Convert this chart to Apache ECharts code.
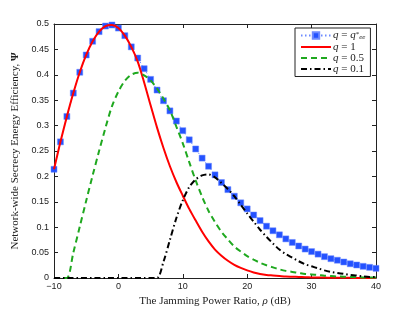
<!DOCTYPE html>
<html>
<head>
<meta charset="utf-8">
<script src="https://cdn.jsdelivr.net/npm/echarts@6/dist/echarts.min.js"></script>
<style>html,body{margin:0;padding:0;background:#fff}#c{width:415px;height:313px}</style>
</head>
<body>
<div id="c"></div>
<script>
// Jamming power ratio rho (dB)
var rho = [-10,-9,-8,-7,-6,-5,-4,-3,-2,-1,0,1,2,3,4,5,6,7,8,9,10,11,12,13,14,15,16,17,18,19,20,21,22,23,24,25,26,27,28,29,30,31,32,33,34,35,36,37,38,39,40];
// q = q*_ee
var psiOpt = [0.214,0.268,0.318,0.364,0.405,0.439,0.466,0.485,0.496,0.498,0.492,0.477,0.455,0.433,0.412,0.391,0.370,0.349,0.329,0.309,0.290,0.272,0.254,0.236,0.220,0.203,0.188,0.174,0.161,0.148,0.136,0.124,0.113,0.102,0.093,0.085,0.077,0.070,0.063,0.057,0.052,0.047,0.042,0.038,0.035,0.0315,0.028,0.0256,0.023,0.021,0.019];
// q = 1
var psi1 = [0.214,0.268,0.318,0.364,0.405,0.439,0.466,0.485,0.496,0.498,0.492,0.477,0.455,0.426,0.385,0.340,0.296,0.256,0.220,0.189,0.162,0.136,0.113,0.091,0.072,0.056,0.044,0.034,0.026,0.020,0.015,0.011,0.008,0.006,0.005,0.004,0.003,0.0025,0.002,0.0016,0.0012,0.001,0.0008,0.0006,0.0005,0.0004,0.0003,0.0002,0.0002,0.0001,0.0001];
// q = 0.5
var psi05 = [0,0,0,0.050,0.101,0.152,0.202,0.250,0.296,0.338,0.367,0.388,0.400,0.404,0.399,0.389,0.373,0.353,0.330,0.298,0.265,0.228,0.192,0.160,0.132,0.110,0.091,0.076,0.062,0.052,0.043,0.036,0.030,0.025,0.021,0.017,0.014,0.012,0.010,0.008,0.007,0.006,0.0045,0.0037,0.003,0.0025,0.002,0.0016,0.0012,0.001,0.0008];
// q = 0.1
var psi01 = [0,0,0,0,0,0,0,0,0,0,0,0,0,0,0,0,0,0.032,0.075,0.118,0.153,0.179,0.194,0.202,0.204,0.198,0.187,0.175,0.161,0.144,0.127,0.111,0.095,0.081,0.068,0.056,0.047,0.040,0.033,0.027,0.023,0.019,0.015,0.012,0.010,0.008,0.006,0.005,0.003,0.002,0.002];
var xTicks = {min:-10, max:40, interval:10};
var yTicks = {min:0, max:0.5, interval:0.05};

function pairs(ys){ return rho.map(function(x,i){ return [x, ys[i]]; }); }
var serif = '"Liberation Serif","DejaVu Serif",serif';
var sans = '"Liberation Sans",Arial,sans-serif';
var axisLineStyle = {color:'#222', width:1};

var chart = echarts.init(document.getElementById('c'), null, {renderer:'canvas'});
chart.setOption({
  animation:false,
  backgroundColor:'#fff',
  grid:{left:54, right:39, top:24, bottom:35, containLabel:false},
  legend:{
    orient:'vertical', left:295, top:28,
    backgroundColor:'#fff', borderColor:'#222', borderWidth:1, borderRadius:0,
    padding:[2,5,2,5], itemGap:0, itemWidth:30, itemHeight:8,
    textStyle:{fontFamily:serif, fontSize:11, lineHeight:10, color:'#222', padding:[0,0,0,-3],
      rich:{
        i:{fontFamily:serif, fontStyle:'italic', fontSize:11, lineHeight:10},
        n:{fontFamily:serif, fontSize:11, lineHeight:10},
        sup:{fontFamily:serif, fontSize:7, lineHeight:10, verticalAlign:'top', padding:[0,0,4,0]},
        sub:{fontFamily:serif, fontStyle:'italic', fontSize:7, lineHeight:10, padding:[4,0,0,0]}
      }},
    formatter:function(name){
      if(name==='opt') return '{i|q} {n|=} {i|q}{sup|*}{sub|ee}';
      if(name==='q1') return '{i|q} {n|= 1}';
      if(name==='q05') return '{i|q} {n|= 0.5}';
      return '{i|q} {n|= 0.1}';
    },
    data:[
      {name:'opt'},
      {name:'q1', itemStyle:{opacity:0}},
      {name:'q05', itemStyle:{opacity:0}},
      {name:'q01', itemStyle:{opacity:0}}
    ]
  },
  xAxis:[{
    type:'value', min:xTicks.min, max:xTicks.max, interval:xTicks.interval,
    position:'bottom',
    name:'The Jamming Power Ratio, {i|ρ} (dB)', nameLocation:'middle', nameGap:17,
    nameTextStyle:{fontFamily:serif, fontSize:11, color:'#222',
      rich:{i:{fontFamily:serif, fontStyle:'italic', fontSize:11, color:'#222'}}},
    axisLine:{show:true, onZero:false, lineStyle:axisLineStyle},
    axisTick:{show:true, inside:true, length:4, lineStyle:axisLineStyle},
    axisLabel:{fontFamily:sans, fontSize:9, color:'#222', margin:4,
      formatter:function(v){ return String(v).replace('-','\u2212'); }},
    splitLine:{show:false}
  },{
    type:'value', min:xTicks.min, max:xTicks.max, interval:xTicks.interval,
    position:'top',
    axisLine:{show:true, onZero:false, lineStyle:axisLineStyle},
    axisTick:{show:true, inside:true, length:4, lineStyle:axisLineStyle},
    axisLabel:{show:false}, splitLine:{show:false}
  }],
  yAxis:[{
    type:'value', min:yTicks.min, max:yTicks.max, interval:yTicks.interval,
    position:'left',
    name:'Network-wide Secrecy Energy Efficiency, {b|Ψ}', nameLocation:'middle', nameGap:33,
    nameTextStyle:{fontFamily:serif, fontSize:11, color:'#222',
      rich:{b:{fontFamily:serif, fontWeight:'bold', fontSize:11, color:'#222'}}},
    axisLine:{show:true, onZero:false, lineStyle:axisLineStyle},
    axisTick:{show:true, inside:true, length:4, lineStyle:axisLineStyle},
    axisLabel:{fontFamily:sans, fontSize:9, color:'#222', margin:5},
    splitLine:{show:false}
  },{
    type:'value', min:yTicks.min, max:yTicks.max, interval:yTicks.interval,
    position:'right',
    axisLine:{show:true, onZero:false, lineStyle:axisLineStyle},
    axisTick:{show:true, inside:true, length:4, lineStyle:axisLineStyle},
    axisLabel:{show:false}, splitLine:{show:false}
  }],
  series:[
    {name:'opt', type:'line', data:pairs(psiOpt), smooth:false,
      symbol:'rect', symbolSize:6, showSymbol:true,
      itemStyle:{color:'#2452ff', borderColor:'#6d8aff', borderWidth:0.5},
      lineStyle:{color:'#6d8aff', width:1, type:[1.5,2.5]}, z:2},
    {name:'q1', type:'line', data:pairs(psi1), smooth:0.3, symbol:'none',
      itemStyle:{color:'#ff0000'}, lineStyle:{color:'#ff0000', width:2}, z:3},
    {name:'q05', type:'line', data:pairs(psi05), smooth:0.3, symbol:'none',
      itemStyle:{color:'#1fa81f'}, lineStyle:{color:'#1fa81f', width:2, type:[6,4]}, z:4},
    {name:'q01', type:'line', data:pairs(psi01), smooth:0.3, symbol:'none',
      itemStyle:{color:'#000'}, lineStyle:{color:'#000', width:2, type:[6,3,1.5,3]}, z:5}
  ]
});
</script>
</body>
</html>
